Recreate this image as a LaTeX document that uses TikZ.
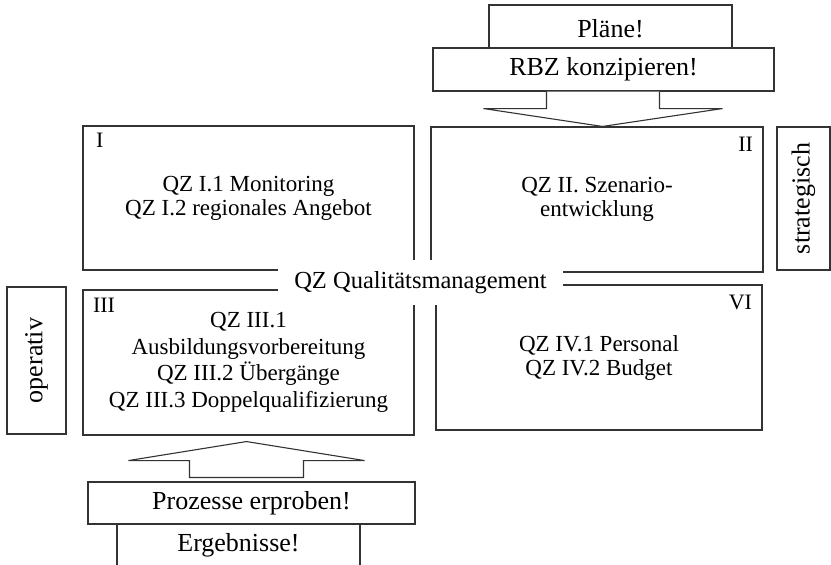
\documentclass[tikz,border=0pt]{standalone}
\usepackage{fontspec}
\setmainfont{Liberation Serif}
\usetikzlibrary{calc}
\begin{document}
\begin{tikzpicture}[
    x=1pt, y=-1pt,
    every node/.style={line width=1.1pt, draw=black!80, align=center, inner sep=0pt},
    qbox/.style={font=\fontsize{23}{24}\selectfont},
    side/.style={rotate=90, font=\fontsize{26}{28}\selectfont},
    task/.style={fill=white, font=\fontsize{26}{28}\selectfont},
    nr/.style={draw=none, font=\fontsize{22}{24}\selectfont},
    blockarrow/.style={line width=1.1pt, draw=black!80, fill=white},
  ]
  \clip (0,0) rectangle (831,565);

  \node[qbox, minimum width=331, minimum height=144] (boxI) at (248.5,198)
    {QZ I.1 Monitoring\\QZ I.2 regionales Angebot};
  \node[qbox, minimum width=332, minimum height=145] (boxII) at (597,199.5)
    {QZ II. Szenario-\\entwicklung};
  \node[qbox, font=\fontsize{23}{26.5}\selectfont, minimum width=331, minimum height=145] (boxIII) at (248.5,362.5)
    {QZ III.1\\Ausbildungsvorbereitung\\QZ III.2 Übergänge\\QZ III.3 Doppelqualifizierung};
  \node[qbox, minimum width=326, minimum height=145] (boxVI) at (599,357.5)
    {QZ IV.1 Personal\\QZ IV.2 Budget};

  \node[nr, anchor=north west] (nrI) at ($(boxI.north west)+(13,7)$) {I};
  \node[nr, anchor=north east] (nrII) at ($(boxII.north east)+(-10,10)$) {II};
  \node[nr, anchor=north west] (nrIII) at ($(boxIII.north west)+(10,8)$) {III};
  \node[nr, anchor=north east] (nrVI) at ($(boxVI.north east)+(-10,10)$) {VI};

  \node[draw=none, fill=white, minimum width=285, minimum height=45,
    font=\fontsize{24.5}{26}\selectfont] (qm) at (420.5,282.5) {QZ Qualitätsmanagement};

  \node[side, minimum width=147, minimum height=59] (operativ) at (36.5,360.5) {operativ};
  \node[side, minimum width=143, minimum height=53] (strategisch) at (803.5,198.5) {strategisch};

  \node[task, minimum width=243, minimum height=48] (plaene) at (610.5,29) {Pläne!};
  \node[task, minimum width=341, minimum height=43] (rbz) at (603.5,69.5) {RBZ konzipieren!};

  \node[task, minimum width=243, minimum height=60] (ergebnisse) at (238.5,545) {Ergebnisse!};
  \node[task, minimum width=327, minimum height=42] (prozesse) at (251.5,503) {Prozesse erproben!};

  \draw[blockarrow] let \p1=(rbz.south), \p2=(boxII.north) in
    (\x1-57pt,\y1) -- (\x1-57pt,\y1-17pt) -- (\x1-120pt,\y1-17pt) -- (\x1-1pt,\y2)
    -- (\x1+119pt,\y1-17pt) -- (\x1+56pt,\y1-17pt) -- (\x1+56pt,\y1);
  \draw[blockarrow] let \p1=(boxIII.south), \p2=(prozesse.north) in
    (\x1-59pt,\y2+4pt) -- (\x1-59pt,\y1-25pt) -- (\x1-120pt,\y1-25pt) -- (\x1-2pt,\y1-6pt)
    -- (\x1+116pt,\y1-25pt) -- (\x1+55pt,\y1-25pt) -- (\x1+55pt,\y2+4pt) -- cycle;
\end{tikzpicture}
\end{document}
